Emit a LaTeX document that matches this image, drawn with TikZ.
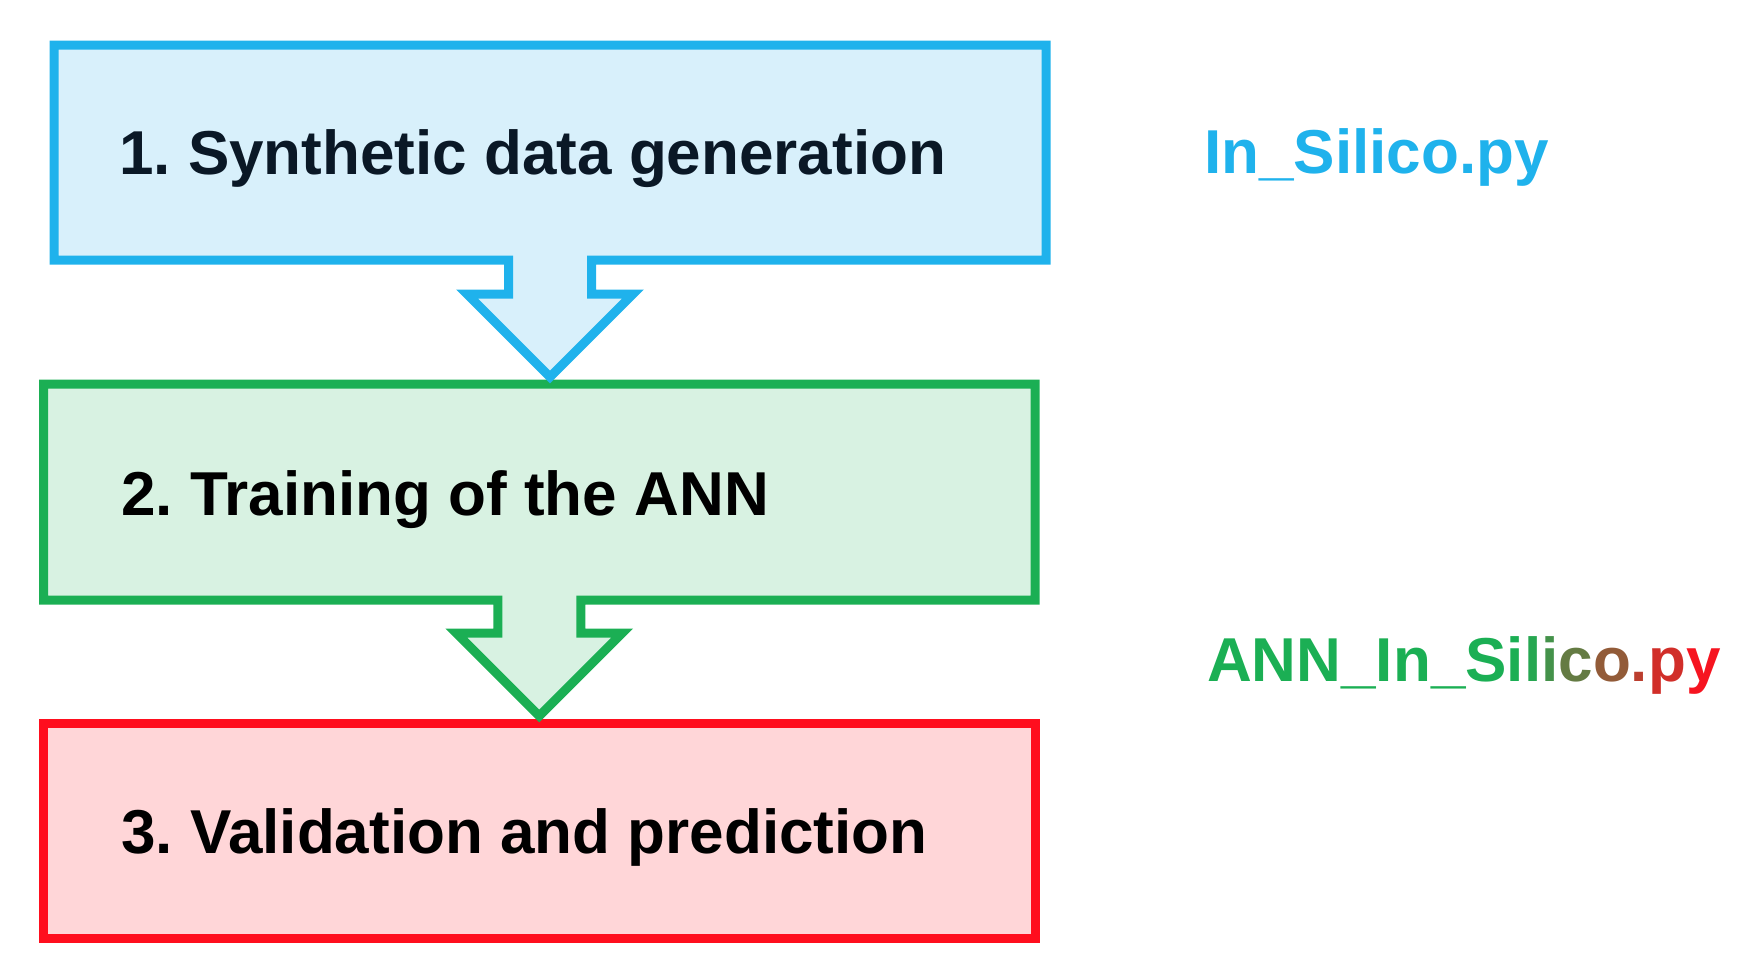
\documentclass[tikz,border=0pt]{standalone}
\usepackage{fontspec}
\setmainfont{Liberation Sans}
\frenchspacing
\definecolor{skyline}{RGB}{31,178,236}
\definecolor{skyfill}{RGB}{216,240,251}
\definecolor{leafline}{RGB}{27,175,84}
\definecolor{leaffill}{RGB}{216,242,226}
\definecolor{rubyline}{RGB}{255,14,30}
\definecolor{rubyfill}{RGB}{255,214,216}
\definecolor{inkblue}{RGB}{10,24,38}
\tikzset{
  frame/.style={minimum width=992pt, minimum height=215pt, inner sep=0pt, outer sep=0pt},
  steptext/.style={anchor=base west, inner sep=0pt, font=\fontsize{62}{70}\selectfont\bfseries},
  outline/.style={line width=9pt, miter limit=10}
}

\begin{document}
\begin{tikzpicture}[x=1pt, y=-1pt]
    \useasboundingbox (0,0) rectangle (1756,978);
    % Frames of the three steps
    \node[frame] (synth) at (550,152.5) {};
    \node[frame, minimum width=991.5pt, minimum height=216pt] (train) at (539.25,492) {};
    \node[frame, minimum width=991.5pt, minimum height=215.5pt] (valid) at (539.25,830.75) {};
    % Draw the third box
    \filldraw[outline, draw=rubyline, fill=rubyfill] (valid.north west) rectangle (valid.south east);
    % Draw the second box with its arrow
    \filldraw[outline, draw=leafline, fill=leaffill] (train.north west) -- (train.north east)
        -- (train.south east) -- ([xshift=41.5pt]train.south) -- ++(0,33) -- ++(41.5,0)
        -- ([yshift=-116pt]train.south) -- ([xshift=-83pt, yshift=-33pt]train.south)
        -- ++(41.5,0) -- ++(0,-33) -- (train.south west) -- cycle;
    % Draw the first box with its arrow
    \filldraw[outline, draw=skyline, fill=skyfill] (synth.north west) -- (synth.north east)
        -- (synth.south east) -- ([xshift=41.5pt]synth.south) -- ++(0,34) -- ++(41.5,0)
        -- ([yshift=-117pt]synth.south) -- ([xshift=-83pt, yshift=-34pt]synth.south)
        -- ++(41.5,0) -- ++(0,-34) -- (synth.south west) -- cycle;
    % Label the steps
    \node[steptext, text=inkblue] (synthtext) at (119,174) {1. Synthetic data generation};
    \node[steptext] (traintext) at (121,515) {2. Training of the ANN};
    \node[steptext] (validtext) at (121,853) {3. Validation and prediction};
    % Label the scripts
    \node[steptext, text=skyline] (insilico) at (1204,173) {In\_Silico.py};
    \node[steptext, text=leafline] (anninsilico) at (1207,681) {ANN\_In\_Si%
        \textcolor{leafline!95!rubyline}{l}%
        \textcolor{leafline!82!rubyline}{i}%
        \textcolor{leafline!68!rubyline}{c}%
        \textcolor{leafline!48!rubyline}{o}%
        \textcolor{leafline!30!rubyline}{.}%
        \textcolor{leafline!20!rubyline}{p}%
        \textcolor{leafline!4!rubyline}{y}};
\end{tikzpicture}
\end{document}
